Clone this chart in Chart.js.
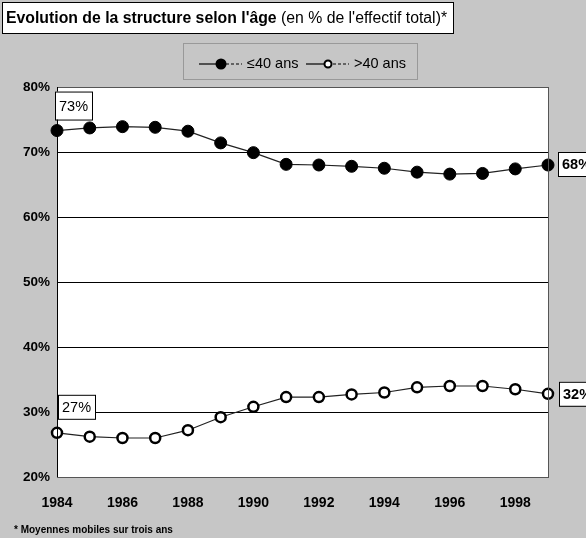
<!DOCTYPE html>
<html>
<head>
<meta charset="utf-8">
<script src="https://cdn.jsdelivr.net/npm/chart.js@4.4.0/dist/chart.umd.min.js"></script>
<style>
  html, body { margin: 0; padding: 0; background: #c6c6c6; }
  #wrap { width: 586px; height: 538px; }
</style>
</head>
<body>
<div id="wrap"><canvas id="myChart" width="586" height="538"></canvas></div>
<script>
// data
const years = ['1984','1985','1986','1987','1988','1989','1990','1991','1992','1993','1994','1995','1996','1997','1998','1999'];
const under40 = [73.3, 73.7, 73.9, 73.8, 73.2, 71.4, 69.9, 68.1, 68.0, 67.8, 67.5, 66.9, 66.6, 66.7, 67.4, 68.0];
const over40 = [26.8, 26.2, 26.0, 26.0, 27.2, 29.2, 30.8, 32.3, 32.3, 32.7, 33.0, 33.8, 34.0, 34.0, 33.5, 32.8];
const seriesNames = ['\u226440 ans', '>40 ans'];
const yTicks = [20, 30, 40, 50, 60, 70, 80];
// labels printed in the boxes (first / last year)
const under40Labels = ['73%', '68%'];
const over40Labels = ['27%', '32%'];

const font = '"Liberation Sans", Arial, sans-serif';

// grey page, white plot area, frame, title box, legend, value boxes, footnote
const decorations = {
    id: 'decorations',
    beforeDraw(chart) {
        const c = chart.ctx, a = chart.chartArea;
        c.save();
        c.fillStyle = '#c6c6c6';
        c.fillRect(0, 0, chart.width, chart.height);
        c.fillStyle = '#fff';
        c.fillRect(a.left, a.top, a.right - a.left, a.bottom - a.top);
        c.restore();
    },
    afterDraw(chart) {
        const c = chart.ctx, a = chart.chartArea;
        c.save();
        // frame
        c.strokeStyle = '#555';
        c.lineWidth = 1;
        c.strokeRect(a.left + 0.5, a.top + 0.5, a.right - a.left, a.bottom - a.top);
        c.strokeStyle = '#000';
        c.beginPath();
        c.moveTo(a.left + 0.5, a.top);
        c.lineTo(a.left + 0.5, a.bottom);
        c.stroke();

        // title box
        c.fillStyle = '#fff';
        c.fillRect(2, 2, 451, 31);
        c.strokeStyle = '#000';
        c.strokeRect(2.5, 2.5, 451, 31);
        c.fillStyle = '#000';
        c.textBaseline = 'alphabetic';
        c.textAlign = 'left';
        c.font = 'bold 15.8px ' + font;
        const t1 = "Evolution de la structure selon l'\u00e2ge";
        c.fillText(t1, 6, 23);
        const w1 = c.measureText(t1).width;
        c.font = '15.8px ' + font;
        c.fillText(" (en % de l'effectif total)*", 6 + w1, 23);

        // legend
        c.strokeStyle = '#999';
        c.lineWidth = 1;
        c.strokeRect(183.5, 43.5, 234, 36);
        c.font = '14.5px ' + font;
        c.textBaseline = 'middle';
        const ly = 64;
        const items = [
            { x: 199, fill: '#000', r: 4.5, label: seriesNames[0] },
            { x: 306, fill: '#fff', r: 3.5, label: seriesNames[1] }
        ];
        items.forEach(it => {
            c.strokeStyle = '#000';
            c.lineWidth = 1.2;
            c.beginPath();
            c.moveTo(it.x, ly);
            c.lineTo(it.x + 22, ly);
            c.stroke();
            c.setLineDash([3, 2]);
            c.beginPath();
            c.moveTo(it.x + 22, ly);
            c.lineTo(it.x + 43, ly);
            c.stroke();
            c.setLineDash([]);
            c.beginPath();
            c.arc(it.x + 22, ly, it.r, 0, Math.PI * 2);
            c.fillStyle = it.fill;
            c.fill();
            c.lineWidth = 2;
            c.stroke();
            c.fillStyle = '#000';
            c.fillText(it.label, it.x + 48, ly);
        });

        // value boxes at first and last points
        const m0 = chart.getDatasetMeta(0).data, m1 = chart.getDatasetMeta(1).data;
        const box = (x, y, w, h, txt, bold) => {
            c.fillStyle = '#fff';
            c.fillRect(x, y, w, h);
            c.strokeStyle = '#000';
            c.lineWidth = 1;
            c.strokeRect(x + 0.5, y + 0.5, w, h);
            c.fillStyle = '#000';
            c.font = (bold ? 'bold ' : '') + '14.5px ' + font;
            c.textAlign = 'left';
            c.textBaseline = 'middle';
            c.fillText(txt, x + 4, y + h / 2 + 1);
        };
        const f = m0[0], l = m0[m0.length - 1];
        box(f.x - 2, f.y - 39, 37, 28, under40Labels[0], false);
        box(l.x + 10, l.y - 13, 42, 24, under40Labels[1], true);
        const f1 = m1[0], l1 = m1[m1.length - 1];
        box(f1.x + 1, f1.y - 38, 37, 24, over40Labels[0], false);
        box(l1.x + 11, l1.y - 12, 42, 24, over40Labels[1], true);

        // footnote
        c.fillStyle = '#000';
        c.font = 'bold 10px ' + font;
        c.textBaseline = 'middle';
        c.fillText('* Moyennes mobiles sur trois ans', 14, 530);
        c.restore();
    }
};

const ctx = document.getElementById('myChart').getContext('2d');
const myChart = new Chart(ctx, {
    type: 'line',
    data: {
        labels: years,
        datasets: [{
            label: seriesNames[0],
            data: under40,
            borderColor: '#222',
            borderWidth: 1.2,
            pointRadius: 6,
            pointBackgroundColor: '#000',
            pointBorderColor: '#000',
            pointBorderWidth: 1,
            tension: 0
        }, {
            label: seriesNames[1],
            data: over40,
            borderColor: '#222',
            borderWidth: 1.2,
            pointRadius: 5,
            pointBackgroundColor: '#fff',
            pointBorderColor: '#000',
            pointBorderWidth: 2.5,
            tension: 0
        }]
    },
    options: {
        responsive: false,
        maintainAspectRatio: false,
        animation: false,
        layout: { padding: { top: 87, right: 38, left: 0, bottom: 0 } },
        scales: {
            x: {
                type: 'category',
                offset: false,
                grid: { display: false },
                border: { display: false },
                ticks: {
                    autoSkip: false,
                    maxRotation: 0,
                    padding: 10,
                    color: '#000',
                    font: { family: font, size: 14, weight: 'bold' },
                    callback: function (v, i) { return i % 2 === 0 ? years[i] : ''; }
                },
                afterFit(s) { s.height = 61; }
            },
            y: {
                min: 20,
                max: 80,
                afterBuildTicks(s) { s.ticks = yTicks.map(v => ({ value: v })); },
                grid: { color: '#000', lineWidth: 1, drawTicks: false },
                border: { display: false },
                ticks: {
                    padding: 7,
                    color: '#000',
                    font: { family: font, size: 13.5, weight: 'bold' },
                    callback: v => v + '%'
                },
                afterFit(s) { s.width = 57; }
            }
        },
        plugins: {
            legend: { display: false },
            title: { display: false },
            tooltip: { enabled: false }
        }
    },
    plugins: [decorations]
});
</script>
</body>
</html>
